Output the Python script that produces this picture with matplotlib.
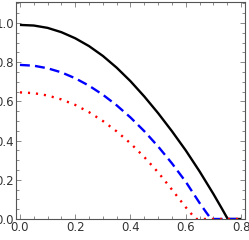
import numpy as np
import matplotlib
matplotlib.use('Agg')
import matplotlib.pyplot as plt
from matplotlib.ticker import MultipleLocator

# ----------------------------------------------------------------
# values
x_black = [0.0, 0.05, 0.1, 0.15, 0.2, 0.25, 0.3, 0.35, 0.4, 0.45, 0.5,
           0.55, 0.6, 0.65, 0.7, 0.73, 0.752, 0.8]
y_black = [0.99, 0.987, 0.975, 0.953, 0.922, 0.882, 0.832, 0.772, 0.703,
           0.625, 0.540, 0.448, 0.350, 0.243, 0.128, 0.055, 0.0, 0.0]

x_blue = [0.0, 0.05, 0.1, 0.15, 0.2, 0.25, 0.3, 0.35, 0.4, 0.45, 0.5,
          0.55, 0.6, 0.65, 0.675, 0.692, 0.8]
y_blue = [0.786, 0.782, 0.769, 0.748, 0.718, 0.680, 0.634, 0.580, 0.518,
          0.448, 0.370, 0.284, 0.190, 0.082, 0.032, 0.0, 0.0]

x_red = [0.0, 0.05, 0.1, 0.15, 0.2, 0.25, 0.3, 0.35, 0.4, 0.45, 0.5,
         0.55, 0.6, 0.636, 0.8]
y_red = [0.646, 0.642, 0.630, 0.610, 0.582, 0.545, 0.500, 0.447, 0.386,
         0.316, 0.238, 0.150, 0.060, 0.0, 0.0]

# ----------------------------------------------------------------
plt.rcParams['font.family'] = ['Liberation Sans Narrow', 'DejaVu Sans']

fig = plt.figure(figsize=(2.49, 2.40), dpi=100)
ax = fig.add_axes([0.064, 0.0875, 0.92, 0.905])

ax.plot(x_black, y_black, color='black', lw=1.7, solid_capstyle='butt')
ax.plot(x_blue, y_blue, color='#0000ff', lw=1.7, ls=(0, (4.2, 2.2)))
ax.plot(x_red, y_red, color='#ff0000', lw=1.7, ls=(0, (0.9, 2.5)))

ax.set_xlim(-0.0145, 0.8145)
ax.set_ylim(0.0, 1.108)

ax.xaxis.set_major_locator(MultipleLocator(0.2))
ax.xaxis.set_minor_locator(MultipleLocator(0.05))
ax.yaxis.set_major_locator(MultipleLocator(0.2))
ax.yaxis.set_minor_locator(MultipleLocator(0.05))
ax.xaxis.set_major_formatter(plt.FormatStrFormatter('%.1f'))
ax.yaxis.set_major_formatter(plt.FormatStrFormatter('%.1f'))

ax.tick_params(which='both', direction='in', top=True, right=True,
               color='#777777', width=0.6, labelsize=8.5, labelcolor='#333333')
ax.tick_params(which='major', length=3.5, pad=1.5)
ax.tick_params(which='minor', length=2)

for s in ax.spines.values():
    s.set_color('#555555')
    s.set_linewidth(0.8)

fig.savefig('out.png', dpi=100)
